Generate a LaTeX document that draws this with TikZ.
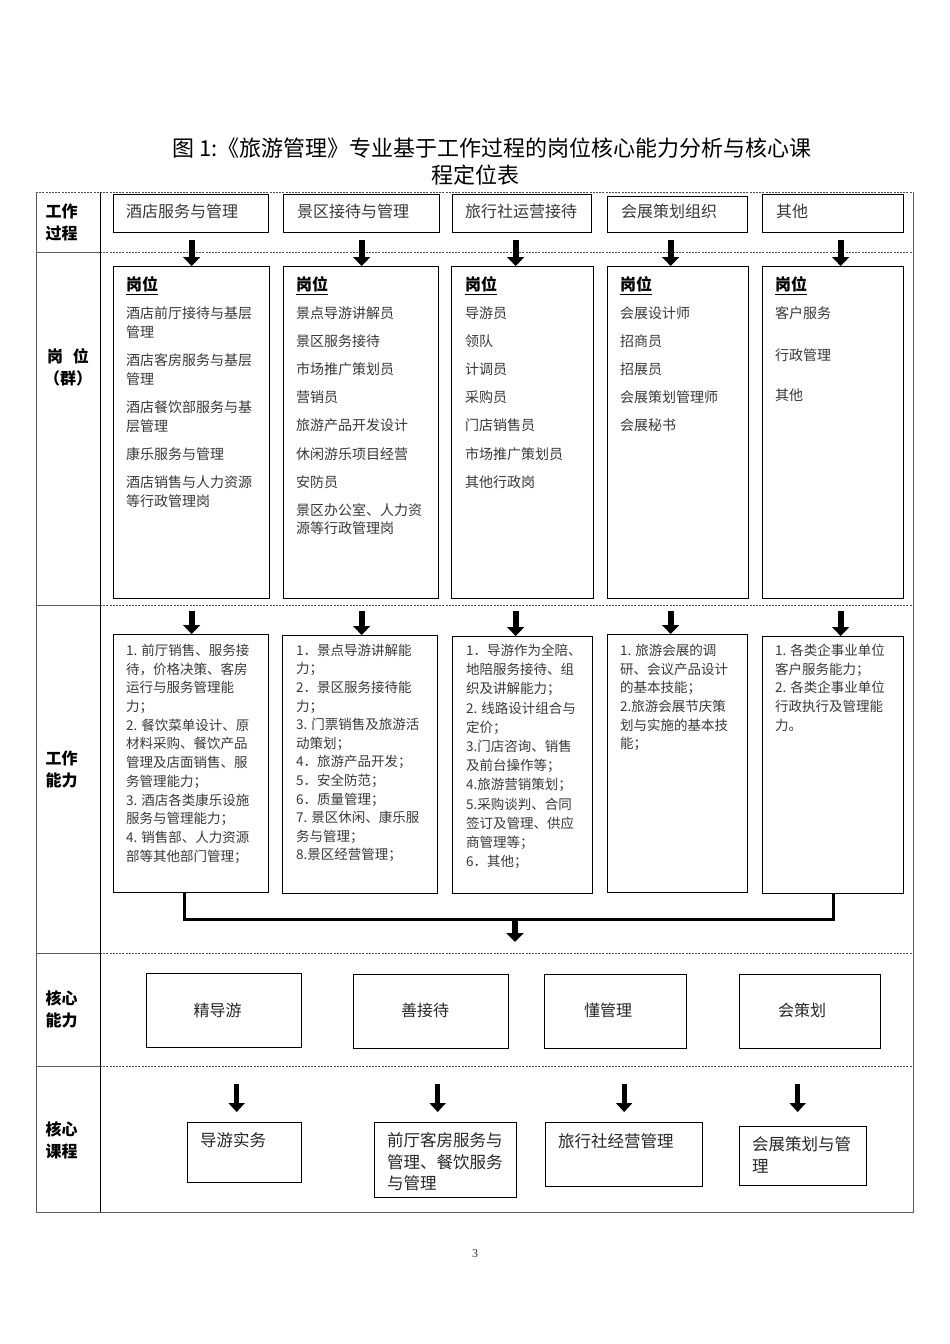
\documentclass[tikz,border=0pt]{standalone}
\usepackage{fontspec}
\setmainfont{Liberation Serif}
\newfontfamily\cjk{Noto Sans CJK SC}
\usetikzlibrary{arrows.meta,calc}
\definecolor{txt}{gray}{0.22}
\definecolor{frm}{gray}{0.35}
\begin{document}
\begin{tikzpicture}[x=1pt,y=-1pt,
  box/.style={draw=black, line width=1.3pt, inner sep=0pt, anchor=north west},
  tx/.style={anchor=north west, inner sep=0pt, align=left, text=txt},
  tone/.style={anchor=west, inner sep=0pt, text=txt, font={\cjk\fontsize{16}{20}\selectfont}},
  ttwo/.style={tx, font={\cjk\fontsize{14}{18.7}\selectfont}},
  tthree/.style={tx, font={\cjk\fontsize{13.5}{18.7}\selectfont}},
  gw/.style={anchor=north west, inner sep=0pt, text=black, font={\cjk\bfseries\fontsize{16}{20}\selectfont}},
  tcore/.style={inner sep=0pt, text=black!85, font={\cjk\fontsize{16}{21.5}\selectfont}},
  tcourse/.style={tx, text=black!85, font={\cjk\fontsize{16.5}{21.5}\selectfont}},
  hdr/.style={align=center, inner sep=0pt, text=black, font={\cjk\bfseries\fontsize{16}{22}\selectfont}},
  frame/.style={line width=0.9pt, draw=frm},
  dline/.style={line width=0.9pt, draw=black!70, dash pattern=on 2pt off 1.2pt},
  bigarrow/.style={line width=6pt, -{Triangle[width=17pt,length=9pt]}},
  smallarrow/.style={line width=5pt, -{Triangle[width=16pt,length=9pt]}},
  conn/.style={line width=3pt, line join=miter}]
\useasboundingbox (0,0) rectangle (950,1344);

% title
\node[inner sep=0pt, font={\cjk\fontsize{22}{26}\selectfont}] (title1) at (492,148) {图 1:《旅游管理》专业基于工作过程的岗位核心能力分析与核心课};
\node[inner sep=0pt, font={\cjk\fontsize{22}{26}\selectfont}] (title2) at (475,175) {程定位表};

% table frame
\draw[dline] (36,192) -- (913,192);
\foreach \yy in {252,605,953,1066}{
  \draw[frame] (36,\yy) -- (100,\yy);
  \draw[dline] (100,\yy) -- (913,\yy);
}
\draw[frame] (36,192) -- (36,1212) -- (913,1212) -- (913,192);
\draw[frame, draw=black] (100,192) -- (100,1212);

% row headers
\node[hdr, align=left] (h1) at (61.5,222) {工作\\过程};
\node[hdr] (h2) at (68,367.5) {岗\hspace{0.6em}位\\（群）};
\node[hdr, align=left] (h3) at (61.5,769) {工作\\能力};
\node[hdr, align=left] (h4) at (61.5,1009.5) {核心\\能力};
\node[hdr, align=left] (h5) at (61.5,1140) {核心\\课程};

% row 1: work process
\node[box, minimum width=155pt, minimum height=38pt] (p1) at (113,194) {};
\node[box, minimum width=156pt, minimum height=38pt] (p2) at (283,194) {};
\node[box, minimum width=139pt, minimum height=38pt] (p3) at (452,194) {};
\node[box, minimum width=140pt, minimum height=36pt] (p4) at (607,196) {};
\node[box, minimum width=141pt, minimum height=38pt] (p5) at (762,194) {};
\node[tone] (tp1) at (126,211) {酒店服务与管理};
\node[tone] (tp2) at (297,211) {景区接待与管理};
\node[tone] (tp3) at (465,211) {旅行社运营接待};
\node[tone] (tp4) at (621,211) {会展策划组织};
\node[tone] (tp5) at (776,211) {其他};

% row 2: positions
\node[box, minimum width=156pt, minimum height=332pt] (g1) at (113,266) {};
\node[box, minimum width=155pt, minimum height=332pt] (g2) at (283,266) {};
\node[box, minimum width=142pt, minimum height=332pt] (g3) at (451,266) {};
\node[box, minimum width=141pt, minimum height=332pt] (g4) at (607,266) {};
\node[box, minimum width=141pt, minimum height=332pt] (g5) at (762,266) {};
\node[gw] (gh1) at (126,276.6) {\underline{岗位}};
\node[gw] (gh2) at (296,276.6) {\underline{岗位}};
\node[gw] (gh3) at (465,276.6) {\underline{岗位}};
\node[gw] (gh4) at (620,276.6) {\underline{岗位}};
\node[gw] (gh5) at (775,276.6) {\underline{岗位}};
\node[ttwo] (tg1) at (126,306.6) {酒店前厅接待与基层\\管理\\[9.5pt]酒店客房服务与基层\\管理\\[9.5pt]酒店餐饮部服务与基\\层管理\\[9.5pt]康乐服务与管理\\[9.5pt]酒店销售与人力资源\\等行政管理岗};
\node[ttwo] (tg2) at (296,306.6) {景点导游讲解员\\[9.4pt]景区服务接待\\[9.4pt]市场推广策划员\\[9.4pt]营销员\\[9.4pt]旅游产品开发设计\\[9.4pt]休闲游乐项目经营\\[9.4pt]安防员\\[9.4pt]景区办公室、人力资\\源等行政管理岗};
\node[ttwo] (tg3) at (465,306.6) {导游员\\[9.4pt]领队\\[9.4pt]计调员\\[9.4pt]采购员\\[9.4pt]门店销售员\\[9.4pt]市场推广策划员\\[9.4pt]其他行政岗};
\node[ttwo] (tg4) at (620,306.6) {会展设计师\\[9.4pt]招商员\\[9.4pt]招展员\\[9.4pt]会展策划管理师\\[9.4pt]会展秘书};
\node[ttwo] (tg5) at (775,306.6) {客户服务\\[23.3pt]行政管理\\[21.3pt]其他};

% row 3: work abilities
\node[box, minimum width=155pt, minimum height=258pt] (w1) at (113,634) {};
\node[box, minimum width=155pt, minimum height=258pt] (w2) at (282,635) {};
\node[box, minimum width=140pt, minimum height=257pt] (w3) at (452,636) {};
\node[box, minimum width=140pt, minimum height=258pt] (w4) at (607,634) {};
\node[box, minimum width=141pt, minimum height=257pt] (w5) at (762,636) {};
\node[tthree] (tw1) at (126,643.8) {1. 前厅销售、服务接\\待，价格决策、客房\\运行与服务管理能\\力；\\2. 餐饮菜单设计、原\\材料采购、餐饮产品\\管理及店面销售、服\\务管理能力；\\3. 酒店各类康乐设施\\服务与管理能力；\\4. 销售部、人力资源\\部等其他部门管理；};
\node[tthree, font={\cjk\fontsize{13.5}{18.6}\selectfont}] (tw2) at (296,643.8) {1．景点导游讲解能\\力；\\2．景区服务接待能\\力；\\3. 门票销售及旅游活\\动策划；\\4．旅游产品开发；\\5．安全防范；\\6．质量管理；\\7. 景区休闲、康乐服\\务与管理；\\8.景区经营管理；};
\node[tthree, font={\cjk\fontsize{13.5}{19.2}\selectfont}] (tw3) at (466,643.8) {1．导游作为全陪、\\地陪服务接待、组\\织及讲解能力；\\2. 线路设计组合与\\定价；\\3.门店咨询、销售\\及前台操作等；\\4.旅游营销策划；\\5.采购谈判、合同\\签订及管理、供应\\商管理等；\\6．其他；};
\node[tthree] (tw4) at (620,643.8) {1. 旅游会展的调\\研、会议产品设计\\的基本技能；\\2.旅游会展节庆策\\划与实施的基本技\\能；};
\node[tthree] (tw5) at (775,643.8) {1. 各类企事业单位\\客户服务能力；\\2. 各类企事业单位\\行政执行及管理能\\力。};

% row 4: core abilities
\node[box, minimum width=155pt, minimum height=74pt] (k1) at (146,973) {};
\node[box, minimum width=155pt, minimum height=74pt] (k2) at (353,974) {};
\node[box, minimum width=142pt, minimum height=74pt] (k3) at (544,974) {};
\node[box, minimum width=141pt, minimum height=74pt] (k4) at (739,974) {};
\node[tcore] (tk1) at (217.5,1010) {精导游};
\node[tcore] (tk2) at (425,1010) {善接待};
\node[tcore] (tk3) at (608,1010) {懂管理};
\node[tcore] (tk4) at (802,1010) {会策划};

% row 5: core courses
\node[box, minimum width=114pt, minimum height=60pt] (c1) at (187,1122) {};
\node[box, minimum width=142pt, minimum height=75pt] (c2) at (374,1122) {};
\node[box, minimum width=157pt, minimum height=64pt] (c3) at (545,1122) {};
\node[box, minimum width=127pt, minimum height=59pt] (c4) at (739,1126) {};
\node[tcourse] (tc1) at (200,1132.4) {导游实务};
\node[tcourse] (tc2) at (387,1132.4) {前厅客房服务与\\管理、餐饮服务\\与管理};
\node[tcourse] (tc3) at (558,1133.4) {旅行社经营管理};
\node[tcourse] (tc4) at (752,1136.4) {会展策划与管\\理};

% arrows row 1 -> row 2
\coordinate (a1) at ($(p1.south)+(0.5,7)$);
\coordinate (a2) at ($(p2.south)+(0,7)$);
\coordinate (a3) at ($(p3.south)+(-6.5,7)$);
\coordinate (a4) at ($(p4.south)+(-7,7)$);
\coordinate (a5) at ($(p5.south)+(7.5,7)$);
\draw[bigarrow] (a1) -- (a1 |- g1.north);
\draw[bigarrow] (a2) -- (a2 |- g2.north);
\draw[bigarrow] (a3) -- (a3 |- g3.north);
\draw[bigarrow] (a4) -- (a4 |- g4.north);
\draw[bigarrow] (a5) -- (a5 |- g5.north);

% arrows row 2 -> row 3
\coordinate (d1) at ($(g1.south)+(0,12)$);
\coordinate (d2) at ($(g2.south)+(0.5,12)$);
\coordinate (d3) at ($(g3.south)+(-7,12)$);
\coordinate (d4) at ($(g4.south)+(-7.5,12)$);
\coordinate (d5) at ($(g5.south)+(7.5,12)$);
\draw[bigarrow] (d1) -- (d1 |- w1.north);
\draw[bigarrow] (d2) -- (d2 |- w2.north);
\draw[bigarrow] (d3) -- (d3 |- w3.north);
\draw[bigarrow] (d4) -- (d4 |- w4.north);
\draw[bigarrow] (d5) -- (d5 |- w5.north);

% merge connector row 3 -> row 4
\draw[conn] ($(w1.south)+(-6.5,0)$) -- ++(0,26) -| (w5.south);
\coordinate (jn) at (515,918);
\coordinate (jend) at (515,942);
\draw[bigarrow] (jn) -- (jend);

% arrows row 4 -> row 5
\draw[smallarrow] ($(c1.north)+(-8,-38)$) -- ($(c1.north)+(-8,-10)$);
\draw[smallarrow] ($(c2.north)+(-8,-38)$) -- ($(c2.north)+(-8,-10)$);
\draw[smallarrow] ($(c3.north)+(0,-38)$) -- ($(c3.north)+(0,-10)$);
\draw[smallarrow] ($(c4.north)+(-5.5,-42)$) -- ($(c4.north)+(-5.5,-14)$);

% page number
\node[inner sep=0pt, font=\fontsize{12}{14}\selectfont, text=black!80] (pg) at (475,1254) {3};
\end{tikzpicture}
\end{document}
